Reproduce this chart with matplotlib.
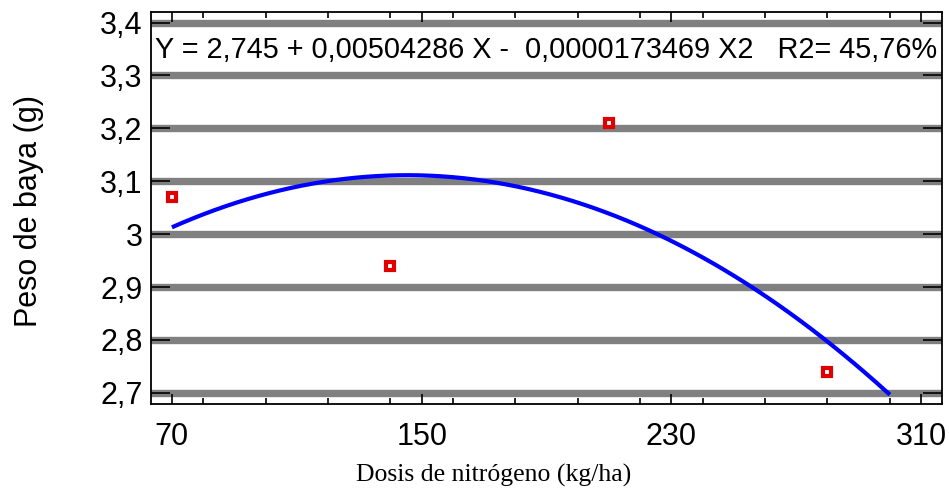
import numpy as np
import matplotlib
matplotlib.use('Agg')
import matplotlib.pyplot as plt
from matplotlib.ticker import MultipleLocator, FuncFormatter

# datos observados
dosis = [70, 140, 210, 280]
peso = [3.07, 2.94, 3.21, 2.74]

# coeficientes del ajuste cuadrático mostrado en el gráfico
b0, b1, b2 = 2.745, 0.00504286, -0.0000173469
x_ajuste_min, x_ajuste_max = 70, 300

x_ticks = [70, 150, 230, 310]
y_ticks = [2.7, 2.8, 2.9, 3.0, 3.1, 3.2, 3.3, 3.4]

plt.rcParams['font.family'] = ['Liberation Sans', 'DejaVu Sans']

fig = plt.figure(figsize=(9.49, 4.90), dpi=100)
ax = fig.add_axes([151 / 949, 86 / 490, 791 / 949, 392 / 490])

x_curva = np.linspace(x_ajuste_min, x_ajuste_max, 200)
y_curva = b0 + b1 * x_curva + b2 * x_curva ** 2

for y in y_ticks:
    ax.axhline(y, color='#808080', lw=5.3, zorder=1)

ax.plot(x_curva, y_curva, color='#0000ff', lw=3, zorder=3, solid_capstyle='butt')
ax.plot(dosis, peso, ls='none', marker='s', ms=5.2, mfc='white', mec='#e00000',
        mew=3, zorder=4)

ax.set_xlim(63.3, 316.7)
ax.set_ylim(2.679, 3.420)
ax.set_xticks(x_ticks)
ax.xaxis.set_minor_locator(MultipleLocator(20))
ax.set_yticks(y_ticks)
ax.yaxis.set_major_formatter(FuncFormatter(lambda v, p: ('%g' % round(v, 1)).replace('.', ',')))

ax.tick_params(axis='x', which='major', direction='in', length=7, width=1.2,
               top=True, labelsize=22, pad=13)
ax.tick_params(axis='x', which='minor', direction='in', length=4, width=1.2, top=True)
ax.tick_params(axis='y', which='major', direction='in', length=14, width=1.2,
               right=True, labelsize=22, pad=6)
for s in ax.spines.values():
    s.set_linewidth(1.3)

ax.text(0.005, 0.903, 'Y = 2,745 + 0,00504286 X -  0,0000173469 X2   R2= 45,76%',
        transform=ax.transAxes, fontsize=20.8, va='center', ha='left', zorder=5)

ax.set_ylabel('Peso de baya (g)', fontsize=22)
ax.yaxis.set_label_coords(-107 / 791, 0.492)
ax.set_xlabel('Dosis de nitrógeno (kg/ha)', fontsize=18.5, family='Liberation Serif')
ax.xaxis.set_label_coords((494 - 151) / 791, -60 / 392)

plt.savefig('out.png', dpi=100)
